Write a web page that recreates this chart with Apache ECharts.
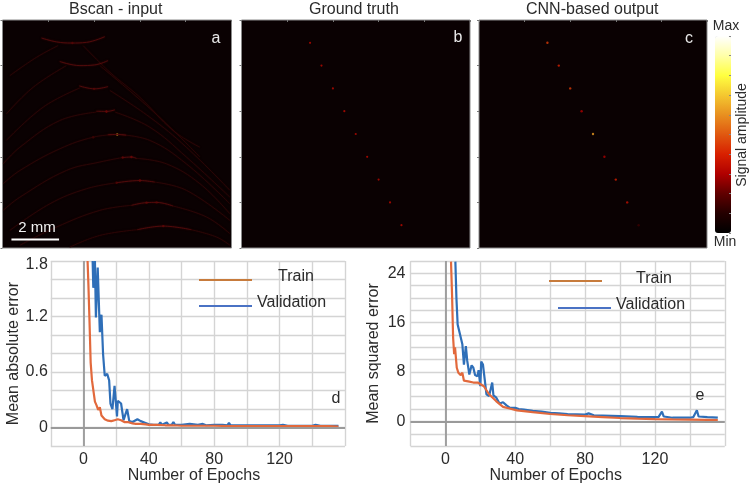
<!DOCTYPE html>
<html>
<head>
<meta charset="utf-8">
<style>html,body{margin:0;padding:0;background:#fff}#c{width:752px;height:485px}</style>
<script src="https://cdn.jsdelivr.net/npm/echarts@6/dist/echarts.min.js"></script>
</head>
<body>
<div id="c"></div>
<script>
// ---- image panels (positions in mm) ----
const truthPts = [[3,1],[3.5,2],[4,3],[4.5,4],[5,5],[5.5,6],[6,7],[6.5,8],[7,9]];
const truthAmp = [0.33,0.33,0.33,0.33,0.33,0.33,0.33,0.33,0.33];
const cnnAmp   = [0.45,0.40,0.45,0.30,0.62,0.30,0.40,0.35,0.14];

const arcTops = [
  [[1.70,0.79],[2.36,0.96],[3.01,1.01],[3.67,0.98],[4.47,0.73]],
  [[2.50,1.82],[3.38,2.00],[4.03,1.97],[4.61,1.78]],
  [[3.35,2.89],[4.03,3.02],[4.61,2.92]],
  [[4.10,4.00],[4.54,4.01],[4.91,3.94]],
  [[4.60,5.03],[5.01,5.02],[5.40,5.05]],
  [[5.20,6.04],[5.63,6.01],[5.85,6.07]],
  [[4.98,7.14],[6.00,7.04],[6.65,7.11]],
  [[5.63,8.13],[6.29,8.01],[6.73,8.00],[7.45,8.16]],
  [[5.88,9.20],[7.02,9.04],[8.25,9.20]]
];
const arcTails = [
  [[0.32,2.44],[1.48,1.64],[2.43,1.12]],
  [[3.52,1.12],[4.69,2.29],[6.00,3.39],[7.45,4.85],[8.62,5.58]],
  [[0.17,4.12],[1.34,2.95],[2.79,2.00]],
  [[4.25,2.00],[5.71,3.24],[7.16,4.55],[8.62,6.01]],
  [[0.17,5.28],[1.78,3.82],[3.38,2.98]],
  [[4.69,3.09],[6.43,4.26],[8.03,5.58],[9.93,7.47]],
  [[0.03,6.31],[0.76,5.58],[2.50,4.41],[4.10,4.04]],
  [[4.91,4.04],[6.43,4.70],[8.03,6.01],[9.93,7.77]],
  [[0.03,7.18],[0.76,6.60],[2.50,5.65],[3.96,5.14],[5.01,5.02]],
  [[5.01,5.02],[6.43,5.28],[8.03,6.31],[9.93,8.06]],
  [[0.03,8.35],[0.76,7.77],[2.79,6.60],[4.25,6.23],[5.20,6.04]],
  [[5.85,6.07],[7.16,6.31],[8.62,7.18],[9.93,8.50]],
  [[0.32,9.23],[2.07,8.06],[3.67,7.40],[4.98,7.14]],
  [[6.65,7.11],[8.03,7.47],[9.93,8.79]],
  [[0.76,9.88],[2.36,9.08],[4.25,8.35],[5.63,8.13]],
  [[7.45,8.16],[8.91,8.64],[9.93,9.37]],
  [[2.94,9.96],[4.25,9.45],[5.88,9.20]],
  [[8.25,9.20],[9.35,9.52],[9.93,9.88]]
];
const arcSpots = [[5.01,5.02,0.66],[4.54,4.01,0.27],[5.63,6.01,0.25],[5.25,6.03,0.22],[6.00,7.04,0.25],[6.29,8.01,0.22],[6.73,8.00,0.2],[7.02,9.04,0.22],[3.05,1.01,0.18],[4.0,3.02,0.18],[3.96,5.14,0.18],[4.98,7.14,0.2]];
const scaleBarMm = [[0.39,9.63],[2.47,9.63]];

// ---- training curves ----
const epochsTrainD = [2.5,3,3.6,4.4,5.2,6,7,8,9,10,11,12,13,14,15,16,17,18,19,20,21,22,23,24,25,26,27,28,30,32,35,38,40,45,50,55,60,70,80,90,100,110,120,130,140,150,156];
const trainD = [1.8,1.55,1.2,0.7,0.51,0.53,0.28,0.24,0.19,0.22,0.13,0.12,0.09,0.08,0.075,0.07,0.07,0.06,0.08,0.07,0.09,0.07,0.08,0.06,0.06,0.055,0.06,0.05,0.045,0.04,0.04,0.035,0.03,0.03,0.025,0.025,0.02,0.02,0.02,0.015,0.015,0.015,0.015,0.015,0.015,0.015,0.012];
const epochsValD = [5.6,6,7,7.6,8.7,10,11,12,13,14.5,15.7,16.5,17.7,19,19.5,20.5,21,22,23,24.5,26.7,28,30,33,35,38,40,43,46,47,48,49,51,52,53,54,55,56,58,60,65,70,73,75,80,85,88,89,90,95,100,105,110,120,122,125,130,140,142,145,150,156];
const valD = [1.8,1.51,1.8,1.19,1.73,1.03,1.22,0.79,0.56,0.58,0.51,0.26,0.2,0.45,0.45,0.12,0.29,0.31,0.26,0.08,0.2,0.07,0.06,0.09,0.07,0.05,0.035,0.03,0.03,0.055,0.03,0.03,0.055,0.03,0.05,0.03,0.06,0.03,0.03,0.03,0.04,0.03,0.04,0.025,0.03,0.03,0.025,0.05,0.025,0.025,0.025,0.025,0.025,0.025,0.03,0.02,0.02,0.02,0.03,0.02,0.02,0.02];
const epochsTrainE = [3.2,3.8,4.4,5,5.5,6.5,7.4,8.8,9.7,10.6,13,16,18.5,19.5,22,25,29,33,36.7,41,50,60,70,80,90,100,110,120,130,140,150,156];
const trainE = [25.9,20.5,13.6,10.9,12,8.7,7.9,7.5,7.9,6.6,6.5,6.3,6.3,6.5,5.7,4.4,3.3,2.35,2.1,1.8,1.5,1.2,1.0,0.85,0.7,0.55,0.45,0.37,0.32,0.3,0.25,0.2];
const epochsValE = [5.7,6.3,7,8.1,9,9.7,10.6,11.7,12.5,13.7,15,16,17,18.3,19,20,20.5,21.5,22.5,23.5,25,26,26.8,27.5,29,31,33,35,37,40,42,45,48,50,55,60,65,70,75,80,82,85,90,95,100,110,120,122,124,125,130,140,142,144,145,150,156];
const valE = [25.9,20,15.7,14.4,14.2,12.5,9.2,12.2,9.8,7.6,9.1,8.7,7.5,7.3,8.3,5.7,9.7,9.2,6.8,4.4,4.1,4.1,6.3,4.2,3.9,2.9,3.1,2.6,2.2,2.2,2,1.9,1.8,1.7,1.6,1.4,1.3,1.2,1.15,1.1,1.3,1.0,0.95,0.9,0.85,0.75,0.7,0.7,1.6,0.8,0.6,0.6,0.7,1.8,0.8,0.7,0.6];

const xTicksShown = [0,40,80,120];
const yTicksD = [0,0.6,1.2,1.8];
const yTicksE = [0,8,16,24];
const hotColors = ['#000000','#240000','#600000','#b00000','#d82000','#e05810','#e89020','#f4c830','#ffff40','#ffffa8','#ffffff'];
const labels = {
  a:'Bscan - input', b:'Ground truth', c:'CNN-based output',
  train:'Train', val:'Validation', xName:'Number of Epochs',
  yD:'Mean absolute error', yE:'Mean squared error', bar:'Signal amplitude', scale:'2 mm'
};

const FONT = '"Liberation Sans", Arial, sans-serif';
const TXT = '#2b2b2b';
const zip = (xs, ys) => xs.map((x, i) => [x, ys[i]]);

const panelGrid = (left, width) => ({
  left, width, top: 20, height: 228, show: true,
  backgroundColor: '#0a0102', borderColor: '#8a8a8a', borderWidth: 1
});
const panelX = i => ({
  type: 'value', gridIndex: i, min: 0, max: 10, interval: 2,
  axisLine: { show: false }, splitLine: { show: false }, axisLabel: { show: false },
  axisTick: { show: true, length: 2, lineStyle: { color: '#777' } }
});
const panelY = i => ({
  type: 'value', gridIndex: i, min: 0, max: 10, interval: 2, inverse: true,
  axisLine: { show: false }, splitLine: { show: false }, axisLabel: { show: false },
  axisTick: { show: true, length: 2, lineStyle: { color: '#777' } }
});
const curveX = (i, shift) => ({
  type: 'value', gridIndex: i, min: -20, max: 160, interval: 20,
  name: labels.xName, nameLocation: 'middle', nameGap: 20,
  nameTextStyle: { fontFamily: FONT, fontSize: 16, color: TXT, padding: shift },
  axisLine: { show: false }, axisTick: { show: false },
  splitLine: { show: true, lineStyle: { color: '#d4d4d4', width: 1.4 } },
  axisLabel: { margin: 5, fontFamily: FONT, fontSize: 16, color: TXT,
    showMinLabel: false, showMaxLabel: false,
    formatter: v => xTicksShown.includes(v) ? String(v) : '' }
});
const curveY = (i, min, max, step, ticks, name, gap, margin, topTick) => ({
  type: 'value', gridIndex: i, min, max, interval: step,
  name, nameLocation: 'middle', nameGap: gap,
  nameTextStyle: { fontFamily: FONT, fontSize: 16, color: TXT },
  axisLine: { show: false }, axisTick: { show: false },
  splitLine: { show: true, lineStyle: { color: '#d4d4d4', width: 1.4 } },
  axisLabel: { margin, fontFamily: FONT, fontSize: 16, color: TXT,
    showMinLabel: false,
    rich: { low: { fontFamily: FONT, fontSize: 16, color: TXT, padding: [8, 0, 0, 0] } },
    formatter: v => {
      if (!ticks.some(t => Math.abs(t - v) < 1e-6)) return '';
      const s = String(+v.toFixed(1));
      return Math.abs(v - topTick) < 1e-6 ? '{low|' + s + '}' : s;
    } }
});
const zeroLines = {
  silent: true, symbol: 'none', label: { show: false }, animation: false,
  lineStyle: { color: '#9a9a9a', width: 1.8, type: 'solid' },
  data: [{ xAxis: 0 }, { yAxis: 0 }]
};
const curve = (idx, data, color, z, extra) => Object.assign({
  type: 'line', xAxisIndex: idx, yAxisIndex: idx, data, showSymbol: false,
  lineStyle: { color, width: 2.2 }, itemStyle: { color }, z, animation: false
}, extra || {});
const arcLine = (data, color, width, blur) => ({
  type: 'line', xAxisIndex: 0, yAxisIndex: 0, data, smooth: 0.4, showSymbol: false,
  silent: true, animation: false,
  lineStyle: { color, width, shadowBlur: blur, shadowColor: color }
});
const dots = (idx, data, size) => ({
  type: 'scatter', xAxisIndex: idx, yAxisIndex: idx, data, symbolSize: size,
  silent: true, animation: false, encode: { x: 0, y: 1 }
});
const text = (x, y, str, size, color, align, rotation) => ({
  type: 'text', x, y, rotation: rotation || 0, z: 100,
  style: { text: str, font: size + 'px ' + FONT, fill: color, textAlign: align || 'center', textVerticalAlign: 'middle' }
});
const legendLine = (x1, x2, y, color) => ({
  type: 'line', z: 100, shape: { x1, y1: y, x2, y2: y }, style: { stroke: color, lineWidth: 2.2 }
});

const arcSeries = [
  ...arcTails.map(d => arcLine(d, 'rgba(48,6,6,0.85)', 0.9, 1.5)),
  ...arcTops.map(d => arcLine(d, 'rgba(88,12,12,0.85)', 1, 2))
];
const spotIndex = arcSeries.length;
const titleStyle = { fontFamily: FONT, fontSize: 16, fontWeight: 'normal', color: TXT };

const option = {
  animation: false,
  backgroundColor: '#ffffff',
  title: [
    { text: labels.a, left: 69, top: 2, padding: 0, textStyle: titleStyle },
    { text: labels.b, left: 309, top: 2, padding: 0, textStyle: titleStyle },
    { text: labels.c, left: 526, top: 2, padding: 0, textStyle: titleStyle }
  ],
  grid: [
    panelGrid(2.5, 229), panelGrid(241.5, 228.5), panelGrid(479, 228),
    { left: 715, width: 16, top: 36, height: 197, show: false },
    { left: 50.8, width: 294.2, top: 261, height: 186.7, show: false },
    { left: 410.5, width: 314.3, top: 261, height: 186.7, show: false }
  ],
  xAxis: [
    panelX(0), panelX(1), panelX(2),
    { type: 'value', gridIndex: 3, min: 0, max: 1, show: false },
    curveX(4, [0, 8, 0, 0]),
    curveX(5, [0, 24, 0, 0])
  ],
  yAxis: [
    panelY(0), panelY(1), panelY(2),
    { type: 'value', gridIndex: 3, min: 0, max: 1, interval: 0.1, position: 'right', z: 20,
      axisLine: { show: false, onZero: false }, splitLine: { show: false }, axisLabel: { show: false },
      axisTick: { show: true, inside: true, length: 2, lineStyle: { color: '#888' } } },
    curveY(4, -0.2, 1.8, 0.2, yTicksD, labels.yD, 29, 3, 1.8),
    curveY(5, -4, 26, 2, yTicksE, labels.yE, 29, 5, 999)
  ],
  visualMap: {
    type: 'continuous', min: 0, max: 1, dimension: 2,
    seriesIndex: [spotIndex, spotIndex + 2, spotIndex + 3],
    left: 715, top: 36, itemWidth: 16, itemHeight: 197, calculable: false,
    showLabel: false, realtime: false, hoverLink: false, padding: 0,
    inRange: { color: hotColors }
  },
  series: [
    ...arcSeries,
    dots(0, arcSpots, 2.4),
    { type: 'line', xAxisIndex: 0, yAxisIndex: 0, data: scaleBarMm, showSymbol: false, silent: true,
      lineStyle: { color: '#ffffff', width: 2 }, z: 10, animation: false },
    dots(1, truthPts.map((p, i) => [p[0], p[1], truthAmp[i]]), 2.2),
    dots(2, truthPts.map((p, i) => [p[0], p[1], cnnAmp[i]]), 2.4),
    curve(4, zip(epochsValD, valD), '#2f6fb8', 3, { markLine: zeroLines }),
    curve(4, zip(epochsTrainD, trainD), '#e2693c', 4),
    curve(5, zip(epochsValE, valE), '#2f6fb8', 3, { markLine: zeroLines }),
    curve(5, zip(epochsTrainE, trainE), '#e2693c', 4)
  ],
  graphic: [
    text(216, 39, 'a', 16, '#e8e8e8'),
    text(458, 38, 'b', 16, '#e8e8e8'),
    text(689, 39, 'c', 16, '#e8e8e8'),
    text(37, 228, labels.scale, 15, '#f2f2f2'),
    text(726, 26, 'Max', 14, TXT),
    text(725, 242, 'Min', 14, TXT),
    text(742, 135, labels.bar, 14, TXT, 'center', Math.PI / 2),
    legendLine(199, 252, 280, '#c77b3c'),
    text(278, 277, labels.train, 16, TXT, 'left'),
    legendLine(199, 252, 306, '#4a72c4'),
    text(257, 303, labels.val, 16, TXT, 'left'),
    text(336, 399, 'd', 16, TXT),
    legendLine(549, 602, 281, '#c77b3c'),
    text(636, 279, labels.train, 16, TXT, 'left'),
    legendLine(558, 611, 308, '#4a72c4'),
    text(616, 305, labels.val, 16, TXT, 'left'),
    text(700, 396, 'e', 16, TXT)
  ]
};
const chart = echarts.init(document.getElementById('c'), null, { renderer: 'canvas' });
chart.setOption(option);
</script>
</body>
</html>
